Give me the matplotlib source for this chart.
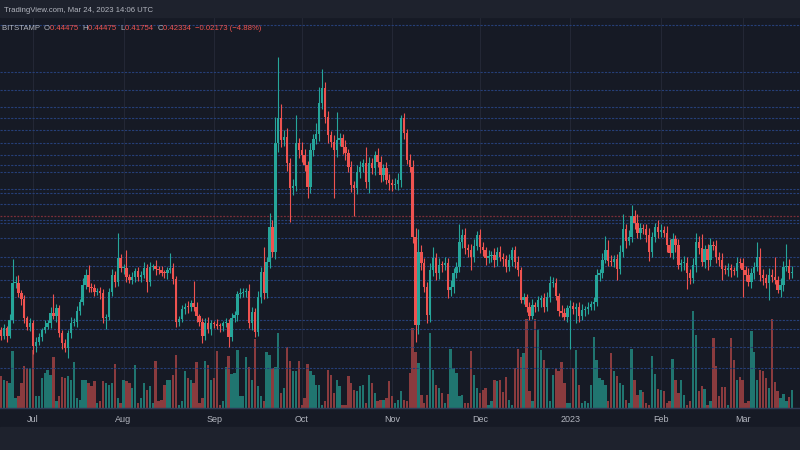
import numpy as np
import pandas as pd
import matplotlib
matplotlib.use('Agg')
import matplotlib.pyplot as plt
from matplotlib.patches import Rectangle

# daily XRPUSD candles, 2022-06-20 .. 2023-03-19
start = '2022-06-20'
first_open = 0.339
close = [
    0.3336, 0.3405, 0.3336, 0.3480, 0.3810, 0.3816, 0.3720, 0.3666, 0.3495, 0.3420,
    0.3450, 0.3246, 0.3285, 0.3330, 0.3390, 0.3420, 0.3450, 0.3546, 0.3516, 0.3585,
    0.3366, 0.3270, 0.3225, 0.3360, 0.3456, 0.3465, 0.3564, 0.3645, 0.3795, 0.3885,
    0.3780, 0.3765, 0.3735, 0.3744, 0.3720, 0.3495, 0.3510, 0.3735, 0.3885, 0.3825,
    0.4035, 0.3945, 0.3951, 0.3864, 0.3840, 0.3870, 0.3924, 0.3864, 0.3885, 0.3951,
    0.3825, 0.3960, 0.3966, 0.3936, 0.3930, 0.3906, 0.3900, 0.3930, 0.3951, 0.3846,
    0.3465, 0.3492, 0.3576, 0.3600, 0.3594, 0.3630, 0.3600, 0.3516, 0.3465, 0.3336,
    0.3456, 0.3396, 0.3450, 0.3448, 0.3426, 0.3424, 0.3450, 0.3456, 0.3330, 0.3495,
    0.3525, 0.3714, 0.3720, 0.3735, 0.3744, 0.3450, 0.3555, 0.3375, 0.3690, 0.3915,
    0.3720, 0.4005, 0.4320, 0.4095, 0.5070, 0.5295, 0.5100, 0.5130, 0.4890, 0.4665,
    0.4689, 0.5076, 0.5010, 0.4965, 0.4875, 0.4680, 0.5010, 0.5106, 0.5151, 0.5430,
    0.5565, 0.5310, 0.5145, 0.5085, 0.5010, 0.5100, 0.5115, 0.5040, 0.4980, 0.4860,
    0.4695, 0.4665, 0.4815, 0.4860, 0.4890, 0.4725, 0.4890, 0.4845, 0.4965, 0.4905,
    0.4785, 0.4845, 0.4740, 0.4710, 0.4695, 0.4704, 0.4740, 0.5295, 0.5160, 0.4920,
    0.4860, 0.4230, 0.3435, 0.4095, 0.3990, 0.3780, 0.3525, 0.3930, 0.4035, 0.3900,
    0.3975, 0.3972, 0.3996, 0.3750, 0.3780, 0.3900, 0.3960, 0.4185, 0.4245, 0.4125,
    0.4110, 0.4050, 0.4146, 0.4245, 0.4140, 0.4110, 0.4035, 0.4056, 0.4065, 0.4020,
    0.4095, 0.4050, 0.4026, 0.3960, 0.4020, 0.4110, 0.4005, 0.3930, 0.3660, 0.3684,
    0.3600, 0.3516, 0.3615, 0.3600, 0.3660, 0.3675, 0.3600, 0.3690, 0.3810, 0.3816,
    0.3696, 0.3564, 0.3546, 0.3510, 0.3585, 0.3606, 0.3576, 0.3600, 0.3516, 0.3570,
    0.3576, 0.3600, 0.3624, 0.3645, 0.3885, 0.3900, 0.4020, 0.4110, 0.4014, 0.4005,
    0.4026, 0.3936, 0.4095, 0.4296, 0.4191, 0.4230, 0.4416, 0.4356, 0.4260, 0.4305,
    0.4296, 0.4245, 0.4095, 0.4224, 0.4314, 0.4275, 0.4290, 0.4266, 0.4155, 0.4080,
    0.4206, 0.4155, 0.3975, 0.3990, 0.3996, 0.3900, 0.3855, 0.3975, 0.4185, 0.4125,
    0.4005, 0.4116, 0.4020, 0.4155, 0.4146, 0.4050, 0.4020, 0.3936, 0.3930, 0.3945,
    0.3930, 0.3921, 0.3996, 0.3990, 0.3930, 0.3885, 0.3825, 0.3900, 0.3960, 0.4050,
    0.3885, 0.3855, 0.3810, 0.3885, 0.3870, 0.3840, 0.3750, 0.3795, 0.3960, 0.3966,
    0.3900, 0.3915,
]
# wick lengths above / below the body, in thousandths of a dollar
upper_wick = [
    3, 4, 2, 5, 22, 6, 7, 3, 4, 2,   5, 3, 4, 3, 2, 6, 3, 5, 17, 4,
    3, 2, 4, 3, 5, 3, 4, 2, 6, 5,    9, 3, 4, 2, 3, 4, 2, 3, 5, 4,
    23, 4, 3, 16, 3, 4, 2, 3, 4, 5,  3, 4, 2, 5, 3, 4, 2, 3, 13, 4,
    3, 2, 4, 3, 5, 3, 20, 4, 2, 3,   4, 5, 3, 2, 4, 3, 2, 4, 3, 5,
    4, 3, 5, 3, 2, 6, 4, 3, 5, 4,    22, 4, 12, 6, 24, 55, 13, 6, 8, 5,
    6, 25, 4, 7, 5, 4, 6, 5, 10, 15, 17, 6, 5, 4, 6, 25, 5, 4, 6, 4,
    5, 4, 6, 5, 4, 15, 6, 5, 4, 6,   5, 4, 6, 5, 4, 5, 6, 3, 5, 4,
    5, 6, 8, 20, 6, 5, 4, 6, 10, 5,  6, 4, 5, 4, 6, 5, 4, 16, 5, 6,
    4, 5, 6, 4, 5, 4, 3, 5, 4, 6,    4, 5, 3, 4, 5, 3, 4, 5, 3, 4,
    3, 4, 5, 3, 4, 3, 5, 4, 7, 5,    4, 3, 5, 4, 3, 5, 4, 3, 4, 5,
    3, 4, 3, 4, 5, 4, 6, 13, 9, 5,   4, 5, 6, 14, 5, 6, 10, 5, 8, 5,
    4, 5, 6, 5, 4, 7, 5, 4, 6, 5,    6, 4, 5, 4, 6, 5, 4, 6, 8, 5,
    13, 4, 5, 6, 4, 5, 4, 6, 4, 5,   4, 3, 5, 4, 5, 4, 6, 5, 4, 13,
    8, 5, 4, 6, 5, 18, 4, 6, 5, 20,  6, 5,
]
lower_wick = [
    4, 3, 5, 2, 3, 4, 3, 5, 4, 3,    4, 7, 5, 3, 4, 3, 2, 4, 3, 5,
    4, 5, 3, 9, 4, 3, 5, 4, 3, 4,    5, 3, 4, 3, 5, 4, 10, 3, 4, 5,
    4, 3, 5, 4, 3, 4, 5, 3, 4, 3,    9, 4, 3, 5, 4, 3, 4, 5, 3, 4,
    5, 4, 3, 4, 5, 3, 4, 5, 4, 6,    4, 3, 5, 4, 3, 5, 4, 3, 9, 4,
    3, 5, 4, 3, 5, 4, 6, 5, 4, 6,    5, 4, 6, 5, 7, 8, 6, 5, 7, 30,
    6, 5, 7, 6, 5, 10, 6, 5, 4, 6,   5, 6, 7, 5, 43, 6, 5, 7, 6, 5,
    6, 25, 5, 6, 5, 6, 10, 5, 6, 5,  6, 5, 4, 6, 5, 4, 5, 6, 5, 4,
    5, 6, 15, 8, 6, 5, 7, 6, 5, 6,   5, 6, 4, 7, 5, 6, 4, 5, 6, 5,
    6, 12, 5, 4, 6, 5, 6, 4, 5, 6,   5, 4, 6, 5, 4, 5, 6, 5, 3, 4,
    5, 4, 3, 5, 4, 6, 5, 4, 5, 3,    4, 5, 4, 3, 5, 37, 4, 12, 5, 4,
    5, 4, 3, 5, 4, 5, 4, 3, 5, 4,    5, 10, 4, 5, 6, 4, 5, 6, 4, 5,
    4, 6, 8, 5, 4, 6, 5, 4, 6, 3,    5, 6, 4, 5, 6, 14, 5, 4, 6, 5,
    4, 6, 9, 5, 4, 6, 5, 10, 4, 5,   6, 4, 5, 4, 24, 5, 4, 6, 5, 4,
    5, 6, 4, 15, 5, 4, 3, 6, 5, 4,   5, 4,
]
volume = [
    95, 85, 80, 75, 173, 30, 35, 75, 125, 120, 120, 175, 35, 35, 90, 105, 115, 100, 153, 20,
    35, 93, 90, 95, 85, 138, 30, 25, 85, 83, 75, 67, 80, 15, 20, 80, 75, 70, 75, 133,
    30, 15, 85, 80, 75, 60, 130, 15, 30, 75, 55, 65, 15, 140, 20, 25, 70, 85, 85, 100,
    160, 10, 20, 112, 90, 85, 75, 137, 15, 30, 142, 130, 85, 90, 172, 10, 22, 122, 157, 103,
    105, 175, 35, 37, 153, 123, 85, 208, 65, 35, 20, 170, 160, 120, 123, 225, 45, 60, 183, 140,
    110, 110, 140, 10, 30, 133, 110, 100, 70, 70, 10, 20, 115, 100, 45, 85, 65, 10, 10, 95,
    75, 55, 50, 65, 70, 15, 100, 75, 45, 20, 25, 25, 30, 80, 35, 15, 25, 50, 25, 20,
    105, 240, 170, 135, 40, 15, 40, 225, 115, 70, 60, 45, 15, 43, 177, 120, 105, 35, 40, 15,
    15, 172, 100, 60, 45, 55, 60, 10, 20, 83, 80, 85, 47, 93, 25, 10, 120, 177, 155, 165,
    267, 50, 20, 267, 235, 175, 145, 120, 20, 100, 120, 110, 137, 75, 15, 15, 120, 175, 70, 15,
    20, 15, 70, 215, 145, 90, 85, 70, 20, 167, 112, 95, 75, 70, 25, 15, 177, 85, 40, 55,
    47, 15, 10, 157, 102, 57, 55, 50, 15, 20, 147, 85, 45, 85, 40, 10, 20, 292, 220, 50,
    65, 57, 10, 20, 212, 125, 35, 62, 62, 10, 212, 145, 85, 92, 83, 15, 20, 232, 168, 85,
    115, 112, 90, 60, 267, 77, 50, 30, 43, 20, 33, 53,
]

# user-drawn horizontal levels
blue_levels = [0.6135, 0.5715, 0.555, 0.5394, 0.5301, 0.5187, 0.5076, 0.4962, 0.4875,
               0.4812, 0.4659, 0.462, 0.4524, 0.438, 0.4356, 0.4218, 0.405, 0.3966,
               0.384, 0.3684, 0.348, 0.3396, 0.3234, 0.3051]
red_level = 0.4413

month_labels = ['Jul', 'Aug', 'Sep', 'Oct', 'Nov', 'Dec', '2023', 'Feb', 'Mar']

header = 'TradingView.com, Mar 24, 2023 14:06 UTC'
legend_parts = [('BITSTAMP  ', 'gray'), ('O', 'gray'), ('0.44475  ', 'red'),
                ('H', 'gray'), ('0.44475  ', 'red'), ('L', 'gray'), ('0.41754  ', 'red'),
                ('C', 'gray'), ('0.42334  ', 'red'), ('\u22120.02173 (\u22124.88%)', 'red')]

BG = '#161a25'
PANEL = '#1e222d'
UP = '#26a69a'
DOWN = '#ef5350'
TXT = '#b2b5be'

c = np.array(close)
o = np.concatenate([[first_open], c[:-1]])
hi = np.maximum(o, c) + np.array(upper_wick) / 1000
lo = np.minimum(o, c) - np.array(lower_wick) / 1000
vol = np.array(volume)
n = len(c)
x = np.arange(n)
up = c >= o
dates = pd.date_range(start, periods=n, freq='D')
month_pos = [i for i, d in enumerate(dates) if d.day == 1]

fig = plt.figure(figsize=(8, 4.5), dpi=100, facecolor=BG)
fig.patches.append(Rectangle((0, 1 - 17 / 450), 1, 17 / 450, transform=fig.transFigure,
                             color=PANEL, zorder=0))
fig.patches.append(Rectangle((0, 0), 1, 23 / 450, transform=fig.transFigure,
                             color=PANEL, zorder=0))

rect = [0, 42 / 450, 1, 391 / 450]
axv = fig.add_axes(rect, facecolor=BG)
ax = fig.add_axes(rect, facecolor='none', sharex=axv)

xlim = (-0.31, 273.66)

# volume
vcol = np.where(up, '#207570', '#8a3b3e')
axv.bar(x, vol, width=0.8, color=vcol, linewidth=0)
axv.set_ylim(0, 1177)
axv.set_xlim(*xlim)
axv.set_yticks([])
axv.grid(axis='x', color='#232735', linewidth=0.8)
axv.set_axisbelow(True)
for s in axv.spines.values():
    s.set_visible(False)
axv.spines['bottom'].set_visible(True)
axv.spines['bottom'].set_color('#2e3a55')
axv.spines['bottom'].set_linewidth(1.0)
axv.set_xticks(month_pos)
axv.set_xticklabels(month_labels, color=TXT, fontsize=6.5, family='Liberation Sans')
axv.tick_params(axis='x', length=0, pad=5)

# levels
for lv in blue_levels:
    ax.axhline(lv, color='#263f78', linewidth=0.8, linestyle=(0, (2, 1.2)), zorder=1)
ax.axhline(red_level, color='#7a2e38', linewidth=0.9, linestyle=(0, (1.5, 1.2)), zorder=1)

# candles
col = np.where(up, UP, DOWN)
ax.vlines(x, lo, hi, colors=col, linewidth=0.8, zorder=3)
body = np.maximum(np.abs(c - o), 0.0008)
ax.bar(x, body, bottom=np.minimum(o, c), width=0.8, color=col, linewidth=0, zorder=4)

ax.set_ylim(0.2688, 0.6207)
ax.set_xlim(*xlim)
ax.set_yticks([])
ax.tick_params(axis='x', length=0, labelbottom=False)
for s in ax.spines.values():
    s.set_visible(False)

# header texts
fig.text(4 / 800, 1 - 10 / 450, header, color=TXT, fontsize=5.6, family='Liberation Sans',
         va='center', ha='left')
xt = 2 / 800
r = fig.canvas.get_renderer()
for txt, kind in legend_parts:
    t = fig.text(xt, 1 - 28 / 450, txt, color=TXT if kind == 'gray' else DOWN,
                 fontsize=5.6, family='Liberation Sans', va='center', ha='left')
    bb = t.get_window_extent(renderer=r)
    xt += bb.width / fig.bbox.width

fig.savefig('out.png', dpi=100, facecolor=BG)
